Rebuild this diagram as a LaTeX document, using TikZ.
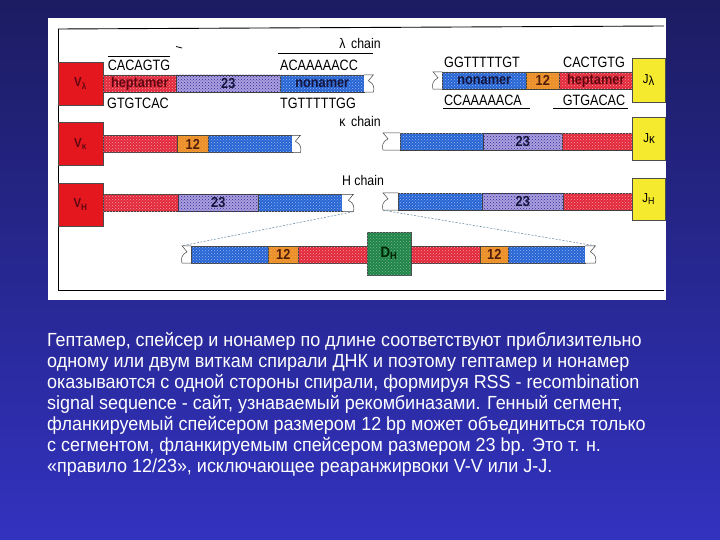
\documentclass[tikz,border=0pt]{standalone}
\usepackage{fontspec}
\setmainfont{Liberation Sans}
\newfontfamily\narrowfont[FakeStretch=0.88]{Liberation Sans}
\newfontfamily\seqfont[FakeStretch=0.84]{Liberation Sans}
\newfontfamily\bodyfont[FakeStretch=0.945]{Liberation Sans}
\usetikzlibrary{patterns,calc}
\definecolor{bgtop}{RGB}{28,28,98}
\definecolor{bgbot}{RGB}{50,50,192}
\definecolor{segred}{RGB}{226,40,58}
\definecolor{segpurple}{RGB}{172,160,222}
\definecolor{segblue}{RGB}{38,100,212}
\definecolor{segorange}{RGB}{236,140,50}
\definecolor{vred}{RGB}{228,22,30}
\definecolor{jyellow}{RGB}{246,234,46}
\definecolor{dgreen}{RGB}{32,132,72}
\definecolor{darknavy}{RGB}{20,20,60}
\definecolor{darkmaroon}{RGB}{95,8,18}
\definecolor{darkbrown}{RGB}{80,30,10}
\definecolor{dashcol}{RGB}{90,130,160}
\tikzset{
  seg/.style={draw=black!75, line width=0.5pt, inner sep=0pt, minimum height=17pt,
    anchor=west, font=\narrowfont\bfseries\fontsize{14.5}{14.5}\selectfont},
  redseg/.style={seg, fill=segred, text=darkmaroon,
    postaction={pattern=crosshatch dots, pattern color=segred!45!white}},
  purpleseg/.style={seg, fill=segpurple, text=darknavy,
    postaction={pattern=crosshatch dots, pattern color=segpurple!40!black!60!blue}},
  blueseg/.style={seg, fill=segblue, text=darknavy,
    postaction={pattern=crosshatch dots, pattern color=segblue!45!white}},
  orangeseg/.style={seg, fill=segorange, text=darkbrown,
    postaction={pattern=crosshatch dots, pattern color=segorange!60!yellow}},
  cutnode/.style={inner sep=0pt, minimum height=17pt, anchor=west, fill=white},
  cutline/.style={draw=black!75, line width=0.5pt},
  vbox/.style={draw=black!70, line width=0.5pt, fill=vred, inner sep=0pt,
    minimum width=45pt, minimum height=43pt, text=darkmaroon,
    font=\narrowfont\bfseries\fontsize{13}{13}\selectfont},
  jbox/.style={draw=black!70, line width=0.5pt, fill=jyellow, inner sep=0pt,
    minimum width=33pt, text=black, font=\narrowfont\fontsize{13}{13}\selectfont},
  seqtext/.style={inner sep=0pt, font=\seqfont\fontsize{15}{15}\selectfont},
  chaintext/.style={inner sep=0pt, font=\narrowfont\fontsize{14}{14}\selectfont},
  bodyline/.style={inner sep=0pt, anchor=base west, text=white,
    font=\bodyfont\fontsize{19}{21}\selectfont},
  conn/.style={draw=dashcol, line width=0.5pt, dash pattern=on 2pt off 1.5pt},
  frameline/.style={draw=black, line width=0.9pt}
}
\newcommand\mycutR[1]{\draw[cutline] (#1.north west) -- (#1.north east) -- ($(#1.north east)+(-5,6)$) .. controls ($(#1.north east)+(1,9)$) and ($(#1.south east)+(1,-4)$) .. (#1.south east) -- (#1.south west);}
\newcommand\mycutL[1]{\draw[cutline] (#1.north east) -- (#1.north west) -- ($(#1.north west)+(5,6)$) .. controls ($(#1.north west)+(-1,9)$) and ($(#1.south west)+(-1,-4)$) .. (#1.south west) -- (#1.south east);}
\begin{document}
\begin{tikzpicture}[x=1pt,y=-1pt]
\shade[top color=bgtop, bottom color=bgbot] (0,0) rectangle (720,540);
\useasboundingbox (0,0) rectangle (720,540);
% white panel
\fill[white] (48,18) rectangle (666,300);
% frame
\draw[frameline] (58,29) -- (664,26);
\draw[frameline] (58,29) -- (58,290) -- (664,290);

% ---------- lambda row ----------
\node[vbox] (vl) at (80.5,83.5) {V\textsubscript{λ}};
\node[redseg, minimum width=73pt] (lh) at (103,83.5) {heptamer};
\node[purpleseg, minimum width=104pt] (l23) at (176,83.5) {23};
\node[blueseg, minimum width=84pt] (lnon) at (280,83.5) {nonamer};
\node[cutnode, minimum width=9pt] (lend) at (364,83.5) {};
\mycutR{lend}
\node[cutnode, minimum width=9pt] (lstart) at (433,80.5) {};
\mycutL{lstart}
\node[blueseg, minimum width=84pt] (rnon) at (442,80.5) {nonamer};
\node[orangeseg, minimum width=33pt] (r12) at (526,80.5) {12};
\node[redseg, minimum width=73pt] (rh) at (559,80.5) {heptamer};
\node[jbox, minimum height=44pt] (jl) at (648.5,80) {J\raisebox{-1.5pt}{λ}};

\node[seqtext] (s1) at (139,65) {CACAGTG};
\node[seqtext] (s2) at (138,103) {GTGTCAC};
\node[seqtext] (s3) at (319,65) {ACAAAAACC};
\node[seqtext] (s4) at (318,103) {TGTTTTTGG};
\node[seqtext] (s5) at (482,62) {GGTTTTTGT};
\node[seqtext] (s6) at (594,62) {CACTGTG};
\node[seqtext] (s7) at (483,100) {CCAAAAACA};
\node[seqtext] (s8) at (594,100) {GTGACAC};
\draw[line width=0.6pt] (108,56.5) -- (170,56.5);
\draw[line width=0.6pt] (278,53) -- (373,53);
\draw[line width=0.6pt] (443,108.5) -- (530,108.5);
\draw[line width=0.6pt] (553,108.5) -- (628,108.5);
\draw[line width=0.8pt] (176,46.5) -- (182,48);
\node[chaintext] (lc) at (360,43) {λ\, chain};

% ---------- kappa row ----------
\node[chaintext] (kc) at (360,121) {κ\, chain};
\node[vbox] (vk) at (80.5,144) {V\textsubscript{κ}};
\node[redseg, minimum width=74pt] (kr) at (103,144) {};
\node[orangeseg, minimum width=31pt] (k12) at (177,144) {12};
\node[blueseg, minimum width=84pt] (kb) at (208,144) {};
\node[cutnode, minimum width=8pt] (kend) at (292,144) {};
\mycutR{kend}
\node[cutnode, minimum width=17pt] (kstart) at (383,141.5) {};
\mycutL{kstart}
\node[blueseg, minimum width=83pt] (kb2) at (400,141.5) {};
\node[purpleseg, minimum width=79pt] (k23) at (483,141.5) {23};
\node[redseg, minimum width=71pt] (kr2) at (562,141.5) {};
\node[jbox, minimum height=43pt] (jk) at (649,138.5) {J\raisebox{-1.5pt}{κ}};

% ---------- H row ----------
\node[chaintext] (hc) at (363,180) {H chain};
\node[vbox] (vh) at (80.5,204.5) {V\textsubscript{H}};
\node[redseg, minimum width=75pt] (hr) at (103,203) {};
\node[purpleseg, minimum width=80pt] (h23) at (178,203) {23};
\node[blueseg, minimum width=84pt] (hb) at (258,203) {};
\node[cutnode, minimum width=11pt] (hend) at (342,203) {};
\mycutR{hend}
\node[cutnode, minimum width=15pt] (hstart) at (383,201.5) {};
\mycutL{hstart}
\node[blueseg, minimum width=84pt] (hb2) at (398,201.5) {};
\node[purpleseg, minimum width=81pt] (h23b) at (482,201.5) {23};
\node[redseg, minimum width=69pt] (hr2) at (563,201.5) {};
\node[jbox, minimum height=42pt] (jh) at (648.5,199) {J\raisebox{-1.5pt}{\fontsize{10}{10}\selectfont H}};

% ---------- D row ----------
\node[cutnode, minimum width=9pt] (dstart) at (182,254.5) {};
\mycutL{dstart}
\node[blueseg, minimum width=77pt] (db) at (191,254.5) {};
\node[orangeseg, minimum width=30pt] (d12) at (268,254.5) {12};
\node[redseg, minimum width=69pt] (dr) at (298,254.5) {};
\node[draw=black!70, line width=0.5pt, fill=dgreen, inner sep=0pt,
  minimum width=44pt, minimum height=43pt, text=black!85!green,
  font=\narrowfont\bfseries\fontsize{15}{15}\selectfont,
  postaction={pattern=crosshatch dots, pattern color=dgreen!60!white}]
  (dh) at (389,253.5) {D\textsubscript{H}};
\node[redseg, minimum width=69pt] (dr2) at (411,254.5) {};
\node[orangeseg, minimum width=28pt] (d12b) at (480,254.5) {12};
\node[blueseg, minimum width=77pt] (db2) at (508,254.5) {};
\node[cutnode, minimum width=10pt] (dend) at (585,254.5) {};
\mycutR{dend}

% dashed connectors
\draw[conn] (hend.south east) -- (dstart.north west);
\draw[conn] (hstart.south west) -- (dend.north east);

% ---------- body text ----------
\node[bodyline] (t1) at (47,346) {Гептамер, спейсер и нонамер по длине соответствуют приблизительно};
\node[bodyline] (t2) at (47,367) {одному или двум виткам спирали ДНК и поэтому гептамер и нонамер};
\node[bodyline] (t3) at (47,388) {оказываются с одной стороны спирали, формируя RSS - recombination};
\node[bodyline] (t4) at (47,409) {signal sequence - сайт, узнаваемый рекомбиназами. Генный сегмент,};
\node[bodyline] (t5) at (47,430.5) {фланкируемый спейсером размером 12 bp может объединиться только};
\node[bodyline] (t6) at (47,451.5) {с сегментом, фланкируемым спейсером размером 23 bp. Это т. н.};
\node[bodyline] (t7) at (47,472.5) {«правило 12/23», исключающее реаранжирвоки V-V или J-J.};
\end{tikzpicture}
\end{document}
